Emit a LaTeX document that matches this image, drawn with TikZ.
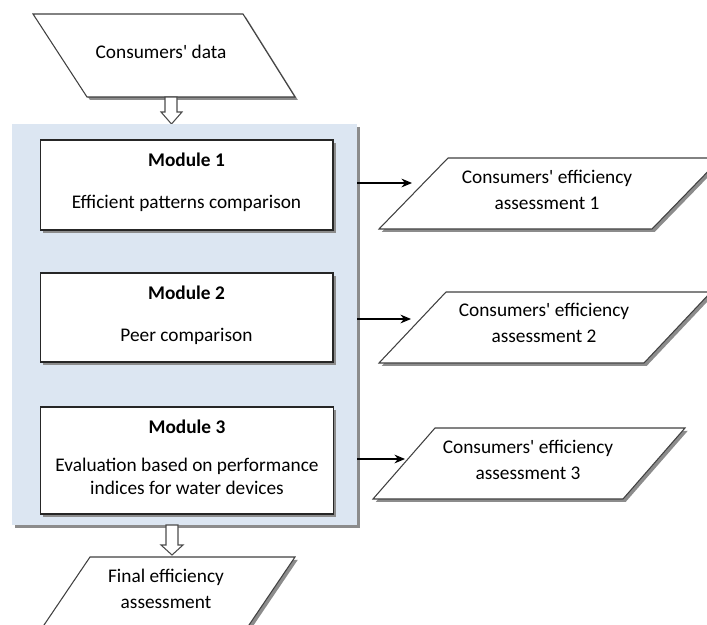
\documentclass[tikz,border=0pt]{standalone}
\usepackage{fontspec}
\setmainfont{Carlito}
\usetikzlibrary{positioning,shadows,arrows.meta}
\definecolor{panelblue}{RGB}{220,230,242}
\definecolor{shadegray}{RGB}{140,140,140}

\begin{document}
\begin{tikzpicture}[x=0.02cm,y=-0.02cm,
        font=\fontsize{11}{14.5}\selectfont,
        shade/.style={drop shadow={shadow xshift=1.6pt, shadow yshift=-1.6pt, fill=shadegray, opacity=1}},
        modbox/.style={draw=black!85, fill=white, line width=0.6pt, minimum width=5.86cm, inner sep=0pt, align=center, shade},
        datashape/.style={draw=black!75, fill=white, line width=0.6pt, shade},
        datatext/.style={align=center, inner sep=0pt},
        hollow/.style={draw=black!70, fill=white, line width=0.6pt},
        link/.style={-{Stealth[length=6pt,width=5pt]}, line width=0.6pt}]
        \useasboundingbox (0,0) rectangle (707,625);
        \clip (0,0) rectangle (707,625);

        % input data
        \draw[datashape] (33,14) -- (243,14) -- (295,97) -- (87,97) -- cycle;
        \node[datatext] (data) at (161,52) {Consumers\textquotesingle\ data};
        \draw[hollow] (165,97) -- (177,97) -- (177,112) -- (182,112) -- (171.5,124)
            -- (161,112) -- (165,112) -- cycle;

        % modules panel
        \node[fill=panelblue, minimum width=6.9cm, minimum height=8.02cm, inner sep=0pt,
            drop shadow={shadow xshift=1.6pt, shadow yshift=-1.6pt, fill=shadegray, opacity=1}]
            (panel) at (184.5,324.5) {};
        \node[modbox, minimum height=1.8cm] (m1) at (186.5,185)
            {\textbf{Module 1}\\[9.5pt]Efficient patterns comparison\\[-10pt]\mbox{}};
        \node[modbox, minimum height=1.78cm] (m2) at (186.5,317.5)
            {\textbf{Module 2}\\[9.5pt]Peer comparison\\[-10pt]\mbox{}};
        \node[modbox, minimum height=2.14cm] (m3) at (187,460.5)
            {\textbf{Module 3}\\[7pt]Evaluation based on performance\\[-1pt]indices for water devices\\[-11pt]\mbox{}};

        % outputs
        \draw[datashape] (448,158) -- (721,158) -- (652,229) -- (379,229) -- cycle;
        \node[datatext] (o1) at (547,190) {Consumers\textquotesingle\ efficiency\\assessment 1};
        \draw[datashape] (446,292) -- (711,292) -- (644,363) -- (379,363) -- cycle;
        \node[datatext] (o2) at (544,323) {Consumers\textquotesingle\ efficiency\\assessment 2};
        \draw[datashape] (435,428) -- (685,428) -- (623,499) -- (373,499) -- cycle;
        \node[datatext] (o3) at (528,460) {Consumers\textquotesingle\ efficiency\\assessment 3};

        \coordinate (t1) at (412,183);
        \coordinate (t2) at (411,319);
        \coordinate (t3) at (405,459);
        \draw[link] (panel.east |- t1) -- (t1);
        \draw[link] (panel.east |- t2) -- (t2);
        \draw[link] (panel.east |- t3) -- (t3);

        % final result
        \draw[hollow] (166,525) -- (178,525) -- (178,545) -- (183,545) -- (172,555)
            -- (161,545) -- (166,545) -- cycle;
        \draw[datashape] (90,557) -- (295,557) -- (247,628) -- (42,628) -- cycle;
        \node[datatext] (final) at (166,589) {Final efficiency\\assessment};
\end{tikzpicture}
\end{document}
